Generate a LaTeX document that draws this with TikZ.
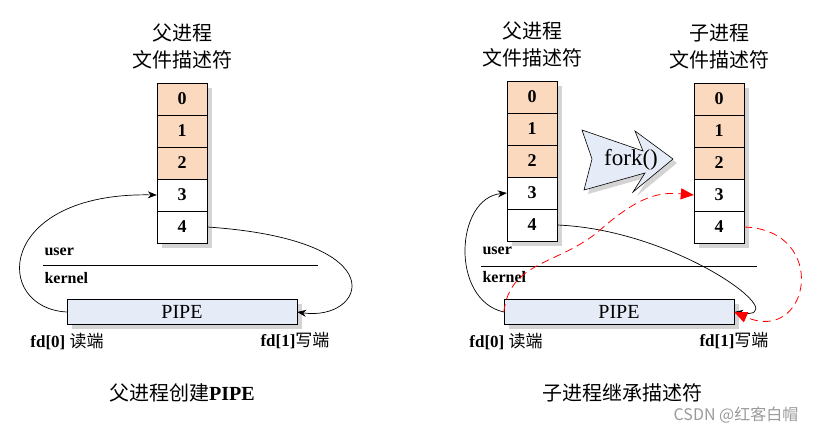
\documentclass[tikz,border=0pt]{standalone}
\usepackage{fontspec}
\setmainfont{Liberation Serif}
\newfontfamily\cjk{Noto Sans CJK SC}
\usetikzlibrary{arrows.meta,shadows}

\begin{document}
\begin{tikzpicture}[x=1pt, y=-1pt]
    \def\rowH{32}

    \definecolor{borderColour}{HTML}{000000}
    \definecolor{stdColour}{HTML}{FAD9BF}
    \definecolor{pipeColour}{HTML}{E6ECF7}
    \definecolor{shadeColour}{HTML}{D4D4D4}
    \definecolor{markColour}{HTML}{9A9A9A}

    \tikzset{
        fdcell/.style={draw=borderColour, fill=white, minimum width=50pt, minimum height=32pt,
            inner sep=0pt, font=\fontsize{18}{18}\selectfont\bfseries,
            general shadow={fill=shadeColour, shadow xshift=5pt, shadow yshift=-5pt}},
        pipebox/.style={draw=borderColour, fill=pipeColour, minimum width=230pt, minimum height=25pt,
            inner sep=0pt, font=\fontsize{20}{20}\selectfont,
            general shadow={fill=shadeColour, shadow xshift=5pt, shadow yshift=-5pt}},
        title/.style={align=center, font=\cjk\fontsize{20}{27}\selectfont},
        space/.style={anchor=west, font=\fontsize{16}{16}\selectfont\bfseries},
        fdlabel/.style={font=\fontsize{17}{17}\selectfont},
        caption/.style={font=\fontsize{20}{20}\selectfont},
        link/.style={-{Stealth[length=9pt,width=7pt]}, borderColour, line width=0.7pt},
        inherit/.style={-{Triangle[length=13pt,width=11pt]}, red, dashed, dash pattern=on 8pt off 5pt, line width=0.8pt}
    }

    \useasboundingbox (0,0) rectangle (820,435);

    % Draw descriptor tables
    \foreach \i/\c in {0/stdColour,1/stdColour,2/stdColour,3/white,4/white} {
        \node[fdcell, fill=\c] (p\i) at (182,{99+\rowH*\i}) {\i};
        \node[fdcell, fill=\c] (m\i) at (532,{97+\rowH*\i}) {\i};
        \node[fdcell, fill=\c] (c\i) at (719,{99+\rowH*\i}) {\i};
    }

    % Table titles
    \node[title] (titleP) at (182,46) {父进程\\文件描述符};
    \node[title] (titleM) at (532,44) {父进程\\文件描述符};
    \node[title] (titleC) at (719,47) {子进程\\文件描述符};

    % Draw user / kernel split
    \draw[borderColour, line width=0.7pt] (43,265) -- (318,265);
    \draw[borderColour, line width=0.7pt] (481,266) -- (757,266);
    \node[space] (userA) at (41,252) {user};
    \node[space] (kernelA) at (41,278) {kernel};
    \node[space] (userB) at (479,251) {user};
    \node[space] (kernelB) at (479,277) {kernel};

    % Draw the pipes
    \node[pipebox] (pipeA) at (182,312) {PIPE};
    \node[pipebox] (pipeB) at (619,312) {PIPE};
    \node[fdlabel] (readA) at (67,341) {\textbf{fd[0]} {\cjk 读端}};
    \node[fdlabel] (writeA) at (295,341) {\textbf{fd[1]}{\cjk 写端}};
    \node[fdlabel] (readB) at (506,341) {\textbf{fd[0]} {\cjk 读端}};
    \node[fdlabel] (writeB) at (734,341) {\textbf{fd[1]}{\cjk 写端}};

    % fork() arrow
    \fill[shadeColour, shift={(4,4)}] (582,130) -- (643,151) -- (635,131) -- (673,159) -- (633,192) -- (645,173) -- (584,190) -- (592,159) -- cycle;
    \filldraw[fill=pipeColour, draw=borderColour, line width=0.6pt] (582,130) -- (643,151) -- (635,131) -- (673,159) -- (633,192) -- (645,173) -- (584,190) -- (592,159) -- cycle;
    \node[font=\fontsize{23}{23}\selectfont] (forkLabel) at (631,160) {fork()};

    % Parent: pipe ends on fd 3 and 4
    \draw[link] (pipeA.west) .. controls (-8,308) and (-4,192) .. (p3.west);
    \draw[link] (p4.east) .. controls (400,240) and (365,322) .. (pipeA.east);
    \draw[link] (pipeB.west) .. controls (450,300) and (455,198) .. (m3.west);
    \draw[link] (m4.east) .. controls (680,230) and (800,322) .. (pipeB.east);

    % Child inherits both ends
    \draw[inherit] (pipeB.west) .. controls (510,260) and (560,265) .. (600,230)
        .. controls (640,195) and (660,192) .. (c3.west);
    \draw[inherit] (c4.east) .. controls (830,230) and (810,345) .. (pipeB.east);

    % Captions
    \node[caption] (capA) at (182,393) {{\cjk 父进程创建}\textbf{PIPE}};
    \node[caption] (capB) at (622,393) {\cjk 子进程继承描述符};
    \node[font=\cjk\fontsize{16}{16}\selectfont, text=markColour] (mark) at (736,415) {CSDN @红客白帽};

\end{tikzpicture}
\end{document}
